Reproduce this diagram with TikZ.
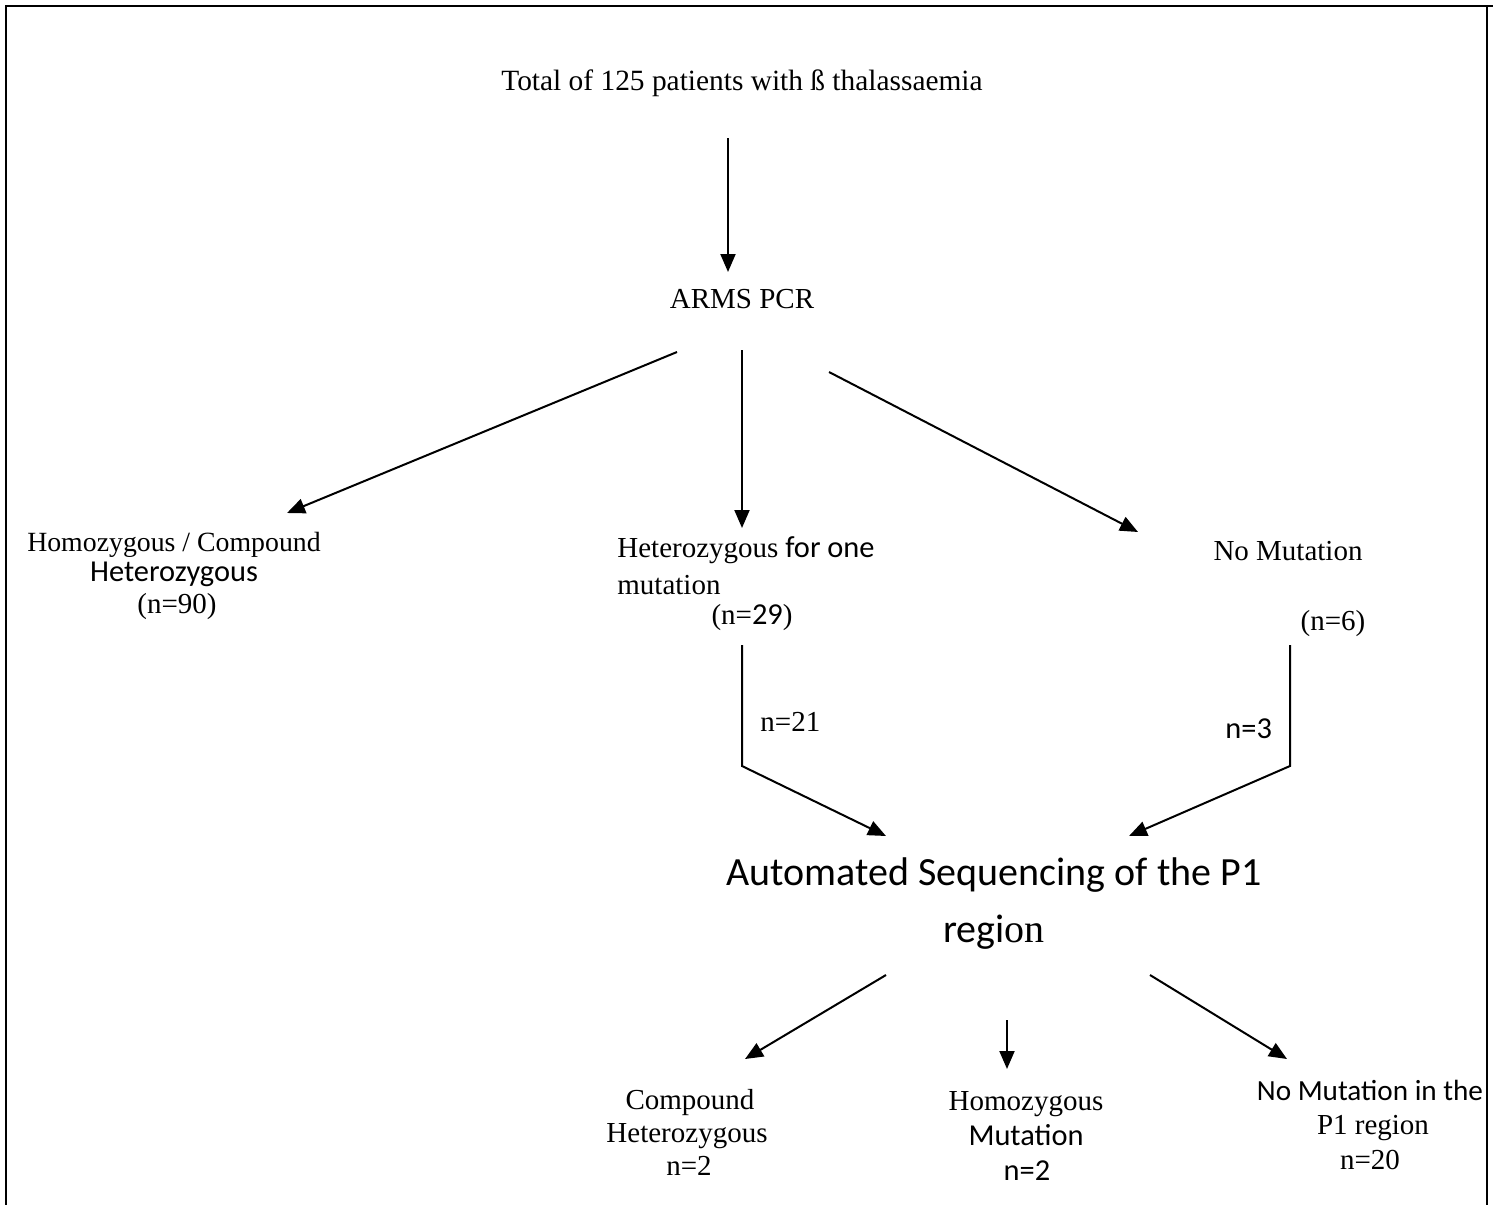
\documentclass[tikz,border=0pt]{standalone}
\usepackage{fontspec}
\setmainfont{Liberation Serif}
\newfontfamily\calfont{Carlito}
\usetikzlibrary{arrows.meta}
\begin{document}
\begin{tikzpicture}[x=0.5pt,y=-0.5pt,
  arr/.style={line width=1pt,-{Triangle[length=9pt,width=7.5pt]}},
  frame/.style={line width=1pt},
  tm/.style={font=\fontsize{14.5}{17}\selectfont,inner sep=0pt,anchor=base},
  tml/.style={tm,anchor=base west},
  cb/.style={font=\fontsize{15.2}{18}\selectfont\calfont,inner sep=0pt,anchor=base},
  big/.style={font=\fontsize{20}{24}\selectfont\calfont,inner sep=0pt,anchor=base}]
\useasboundingbox (0,0) rectangle (1500,1205);
% frame
\coordinate (fbl) at (6,1205);
\coordinate (ftl) at (6,6);
\coordinate (ftr) at (1493,6);
\coordinate (frt) at (1487,6);
\coordinate (frb) at (1487,1205);
\draw[frame] (fbl) -- (ftl) -- (ftr);
\draw[line width=0.6pt] (frt) -- (frb);
% texts
\node[tm,font=\fontsize{14.7}{17}\selectfont] (title) at (742,90) {Total of 125 patients with ß thalassaemia};
\node[tm] (arms) at (742,308) {ARMS PCR};
\node[tm,font=\fontsize{13.9}{17}\selectfont] (hom1) at (174,551) {Homozygous / Compound};
\node[cb] (hom2) at (174,581) {Heterozygous};
\node[tm] (hom3) at (177,613) {(n=90)};
\node[tml] (het1) at (617,557) {Heterozygous{\calfont\fontsize{15.2}{18}\selectfont{} for one}};
\node[tml] (het2) at (617,594) {mutation};
\node[tm] (het3) at (752,624) {(n={\calfont\fontsize{15.2}{18}\selectfont 29})};
\node[tm] (nom1) at (1288,560) {No Mutation};
\node[tm] (nom2) at (1333,630) {(n=6)};
\node[tm,anchor=base west] (n21) at (760,731) {n=21};
\node[cb,anchor=base west] (n3) at (1225,738) {n=3};
\node[big] (seq1) at (994,885) {Automated Sequencing of the P1};
\node[big] (seq2) at (994,942) {regi{\rmfamily on}};
\node[tm] (ch1) at (690,1109) {Compound};
\node[tm] (ch2) at (687,1142) {Heterozygous};
\node[tm] (ch3) at (689,1175) {n=2};
\node[tm] (hm1) at (1026,1110) {Homozygous};
\node[cb] (hm2) at (1026,1145) {Mutation};
\node[cb] (hm3) at (1027,1180) {n=2};
\node[cb,font=\fontsize{14.6}{18}\selectfont\calfont] (nm1) at (1370,1100) {No Mutation in the};
\node[tm] (nm2) at (1373,1134) {P1 region};
\node[tm] (nm3) at (1370,1169) {n=20};
% connector ends
\coordinate (a1s) at (728,138);   \coordinate (a1e) at (728,272);
\coordinate (l1s) at (677,352);   \coordinate (l1e) at (287,513);
\coordinate (m1s) at (742,350);   \coordinate (m1e) at (742,528);
\coordinate (r1s) at (829,372);   \coordinate (r1e) at (1138,532);
\coordinate (hvs) at (742,645);   \coordinate (hvc) at (742,766);   \coordinate (hve) at (886,836);
\coordinate (nvs) at (1290,645);  \coordinate (nvc) at (1290,766);  \coordinate (nve) at (1129,836);
\coordinate (b1s) at (886,975);   \coordinate (b1e) at (745,1059);
\coordinate (b2s) at (1007,1020); \coordinate (b2e) at (1007,1069);
\coordinate (b3s) at (1150,975);  \coordinate (b3e) at (1287,1059);
% connectors
\draw[arr] (a1s) -- (a1e);
\draw[arr] (l1s) -- (l1e);
\draw[arr] (m1s) -- (m1e);
\draw[arr] (r1s) -- (r1e);
\draw[arr] (hvs) -- (hvc) -- (hve);
\draw[arr] (nvs) -- (nvc) -- (nve);
\draw[arr] (b1s) -- (b1e);
\draw[arr] (b2s) -- (b2e);
\draw[arr] (b3s) -- (b3e);
\end{tikzpicture}
\end{document}
